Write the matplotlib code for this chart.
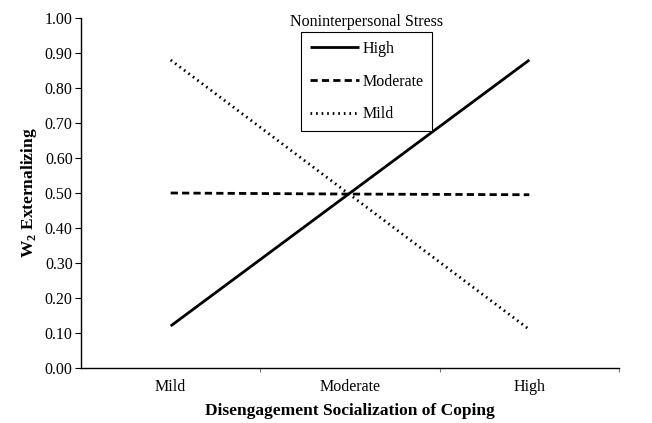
import matplotlib
matplotlib.use("Agg")
import matplotlib.pyplot as plt
from matplotlib.ticker import FixedLocator, NullFormatter

plt.rcParams['font.family'] = ['Liberation Serif', 'DejaVu Serif']
plt.rcParams['mathtext.fontset'] = 'custom'
plt.rcParams['mathtext.rm'] = 'Liberation Serif'
plt.rcParams['mathtext.bf'] = 'Liberation Serif:bold'

categories = ["Mild", "Moderate", "High"]
high = [0.12, 0.50, 0.88]
moderate = [0.50, 0.497, 0.495]
mild = [0.88, 0.495, 0.11]
yticks = [0.0, 0.1, 0.2, 0.3, 0.4, 0.5, 0.6, 0.7, 0.8, 0.9, 1.0]

fig = plt.figure(figsize=(6.52, 4.23), dpi=100)
ax = fig.add_axes([81/652, 1-368/423, 538/652, 350/423])

x = list(range(len(categories)))
ax.plot(x, high, color='black', lw=2.0, linestyle='-', label='High', solid_capstyle='butt')
ax.plot(x, moderate, color='black', lw=2.0, linestyle=(0, (2.6, 1.5)), label='Moderate')
ax.plot(x, mild, color='black', lw=2.0, linestyle=(0, (0.6, 1.4)), label='Mild')

ax.set_xlim(-0.5, 2.5)
ax.set_ylim(0, 1.0)
ax.set_yticks(yticks)
ax.set_yticklabels([f"{v:.2f}" for v in yticks], fontsize=11.5)
ax.set_xticks(x)
ax.set_xticklabels(categories, fontsize=11.5)
ax.tick_params(axis='x', which='major', length=0, pad=8)
ax.xaxis.set_minor_locator(FixedLocator([0.5, 1.5, 2.5]))
ax.xaxis.set_minor_formatter(NullFormatter())
ax.tick_params(axis='x', which='minor', length=3, width=0.8, color='#777777', direction='out')
ax.tick_params(axis='y', length=4, width=0.8, direction='out', pad=2)

for s in ['top', 'right']:
    ax.spines[s].set_visible(False)
for s in ['left', 'bottom']:
    ax.spines[s].set_linewidth(1.0)

ax.set_xlabel("Disengagement Socialization of Coping", fontsize=12.5, fontweight='bold', labelpad=6)
ax.set_ylabel(r"W$_\mathbf{2}$ Externalizing", fontsize=12.5, fontweight='bold', labelpad=4)

leg = ax.legend(loc='upper left', bbox_to_anchor=(0.409, 0.96), fontsize=11.5,
                frameon=True, fancybox=False, edgecolor='black', framealpha=1,
                handlelength=3.1, handletextpad=0.2, labelspacing=1.05,
                borderpad=0.55, borderaxespad=0)
leg.get_frame().set_linewidth(0.8)
ax.text(0.531, 0.988, "Noninterpersonal Stress", transform=ax.transAxes,
        ha='center', va='center', fontsize=11.5)

fig.savefig("out.png", dpi=100)
